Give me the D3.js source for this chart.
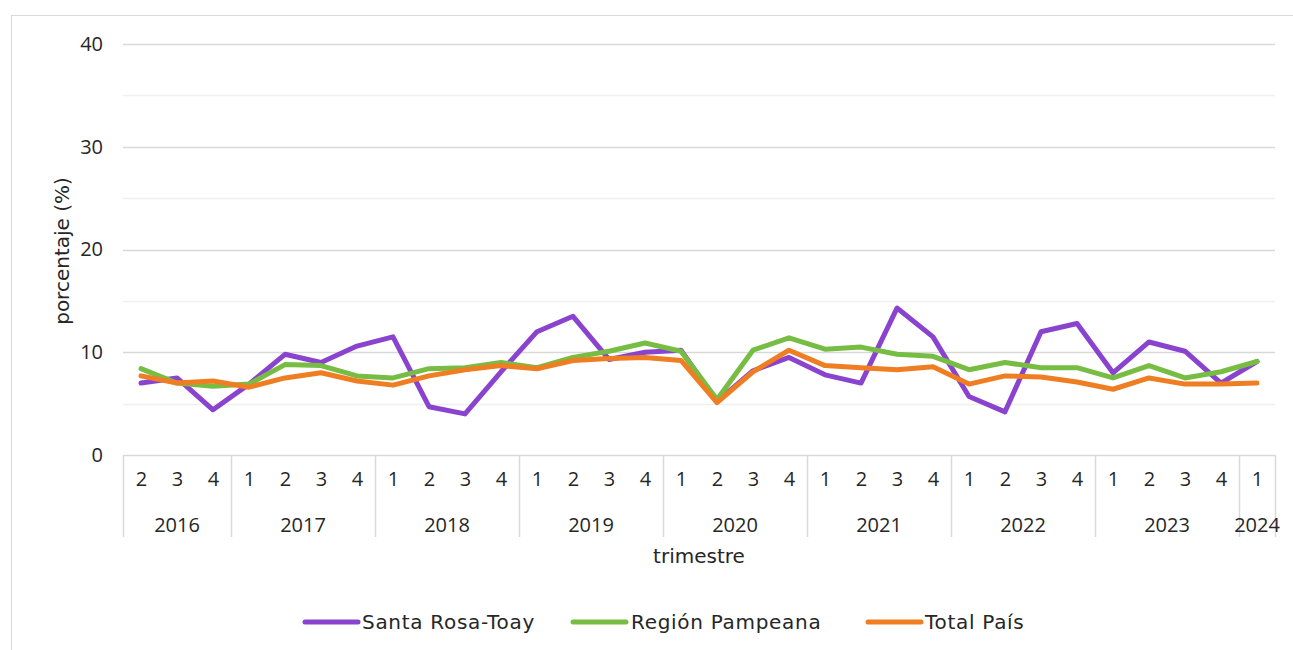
<!DOCTYPE html>
<html>
<head>
<meta charset="utf-8">
<script src="https://cdn.jsdelivr.net/npm/d3@7"></script>
<style>
  html, body { margin: 0; padding: 0; background: #fff; }
  svg { display: block; }
  text { fill: #262626; }
  .num { font-family: "Open Sans", sans-serif; font-size: 20px; }
  .word { font-family: "DejaVu Sans", sans-serif; font-size: 20px; }
  .legend-text { letter-spacing: 0.7px; }
</style>
</head>
<body>
<svg id="chart" width="1293" height="650"></svg>
<script>
// ---- data ----
const years = ["2016", "2017", "2018", "2019", "2020", "2021", "2022", "2023", "2024"];
const yearQuarters = [
  ["2", "3", "4"],
  ["1", "2", "3", "4"],
  ["1", "2", "3", "4"],
  ["1", "2", "3", "4"],
  ["1", "2", "3", "4"],
  ["1", "2", "3", "4"],
  ["1", "2", "3", "4"],
  ["1", "2", "3", "4"],
  ["1"]
];
const seriesNames = ["Santa Rosa-Toay", "Región Pampeana", "Total País"];
const seriesColors = ["#8a43cf", "#78bd43", "#ef7e22"];
const santaRosa = [7.0, 7.5, 4.4, 6.9, 9.8, 9.0, 10.6, 11.5, 4.7, 4.0, 8.1, 12.0, 13.5, 9.3, 10.0, 10.2,
                   5.2, 8.2, 9.5, 7.8, 7.0, 14.3, 11.5, 5.7, 4.2, 12.0, 12.8, 8.0, 11.0, 10.1, 7.0, 9.1];
const regionPampeana = [8.4, 7.0, 6.7, 6.9, 8.8, 8.7, 7.7, 7.5, 8.4, 8.5, 9.0, 8.5, 9.5, 10.1, 10.9, 10.1,
                        5.4, 10.2, 11.4, 10.3, 10.5, 9.8, 9.6, 8.3, 9.0, 8.5, 8.5, 7.5, 8.7, 7.5, 8.1, 9.1];
const totalPais = [7.7, 7.0, 7.2, 6.6, 7.5, 8.0, 7.2, 6.8, 7.7, 8.3, 8.7, 8.4, 9.2, 9.4, 9.5, 9.2,
                   5.1, 8.1, 10.2, 8.7, 8.5, 8.3, 8.6, 6.9, 7.7, 7.6, 7.1, 6.4, 7.5, 6.9, 6.9, 7.0];
const yTicks = [0, 10, 20, 30, 40];
const yMinor = [5, 15, 25, 35];

// ---- derived ----
const categories = [];
years.forEach((yr, i) => yearQuarters[i].forEach(q => categories.push({ key: yr + "-" + q, year: yr, q: q })));
const seriesData = [santaRosa, regionPampeana, totalPais];

const svg = d3.select("#chart");
const plotLeft = 123, plotRight = 1275, plotTop = 44, plotBottom = 455;

const x = d3.scalePoint().domain(categories.map(c => c.key)).range([plotLeft, plotRight]).padding(0.5);
const step = x.step();
const y = d3.scaleLinear().domain([0, 40]).range([plotBottom, plotTop]);

// outer chart border
svg.append("rect").attr("x", 11.5).attr("y", 15.5).attr("width", 1300).attr("height", 700)
  .attr("fill", "none").attr("stroke", "#d9d9d9").attr("stroke-width", 1);

// minor gridlines
svg.append("g").selectAll("line").data(yMinor).join("line")
  .attr("x1", plotLeft).attr("x2", plotRight)
  .attr("y1", d => Math.round(y(d)) + 0.5).attr("y2", d => Math.round(y(d)) + 0.5)
  .attr("stroke", "#f0f0f0").attr("stroke-width", 1.5);

// major gridlines
svg.append("g").selectAll("line").data(yTicks.filter(d => d > 0)).join("line")
  .attr("x1", plotLeft).attr("x2", plotRight)
  .attr("y1", d => Math.round(y(d)) + 0.5).attr("y2", d => Math.round(y(d)) + 0.5)
  .attr("stroke", "#d9d9d9").attr("stroke-width", 1.5);

// y axis labels
const yAxis = d3.axisLeft(y).tickValues(yTicks).tickSize(0).tickPadding(20).tickFormat(d3.format("d"));
const gy = svg.append("g").attr("transform", `translate(${plotLeft},0)`).call(yAxis);
gy.select(".domain").remove();
gy.attr("font-size", null).attr("font-family", null);
gy.selectAll("text").attr("class", "num").attr("fill", "#262626");

// x axis: baseline + quarter labels
const xAxis = d3.axisBottom(x).tickSize(0).tickPadding(17).tickFormat(k => categories.find(c => c.key === k).q);
const gx = svg.append("g").attr("transform", `translate(0,${plotBottom})`).call(xAxis);
gx.attr("font-size", null).attr("font-family", null);
gx.select(".domain").attr("stroke", "#d9d9d9").attr("stroke-width", 1.5);
gx.selectAll("text").attr("class", "num").attr("fill", "#262626");

// year group separators and labels
let idx = 0;
const groups = years.map((yr, i) => {
  const n = yearQuarters[i].length;
  const first = categories[idx].key, last = categories[idx + n - 1].key;
  idx += n;
  return { year: yr, x0: x(first) - step / 2, x1: x(last) + step / 2 };
});
const sepX = [groups[0].x0].concat(groups.map(g => g.x1));
svg.append("g").selectAll("line").data(sepX).join("line")
  .attr("x1", d => Math.round(d) + 0.5).attr("x2", d => Math.round(d) + 0.5)
  .attr("y1", plotBottom).attr("y2", 537)
  .attr("stroke", "#d9d9d9").attr("stroke-width", 1.5);
svg.append("g").selectAll("text").data(groups).join("text")
  .attr("class", "num")
  .attr("x", g => (g.x0 + g.x1) / 2).attr("y", 532)
  .attr("text-anchor", "middle")
  .text(g => g.year);

// axis titles
svg.append("text").attr("class", "word").attr("x", 699).attr("y", 563).attr("text-anchor", "middle")
  .text("trimestre");
svg.append("text").attr("class", "word").attr("transform", "translate(69,251) rotate(-90)").attr("text-anchor", "middle")
  .text("porcentaje (%)");

// lines
const line = d3.line().x((d, i) => x(categories[i].key)).y(d => y(d));
svg.append("g").selectAll("path").data(seriesData).join("path")
  .attr("d", d => line(d))
  .attr("fill", "none")
  .attr("stroke", (d, i) => seriesColors[i])
  .attr("stroke-width", 5)
  .attr("stroke-linejoin", "round")
  .attr("stroke-linecap", "round");

// legend
const legendItems = [
  { x0: 305, x1: 358, tx: 362 },
  { x0: 573, x1: 626, tx: 631 },
  { x0: 868, x1: 921, tx: 925 }
];
const lg = svg.append("g").selectAll("g").data(seriesNames).join("g");
lg.append("line")
  .attr("x1", (d, i) => legendItems[i].x0).attr("x2", (d, i) => legendItems[i].x1)
  .attr("y1", 622).attr("y2", 622)
  .attr("stroke", (d, i) => seriesColors[i]).attr("stroke-width", 5).attr("stroke-linecap", "round");
lg.append("text")
  .attr("class", "word legend-text")
  .attr("x", (d, i) => legendItems[i].tx).attr("y", 629)
  .text(d => d);
</script>
</body>
</html>
